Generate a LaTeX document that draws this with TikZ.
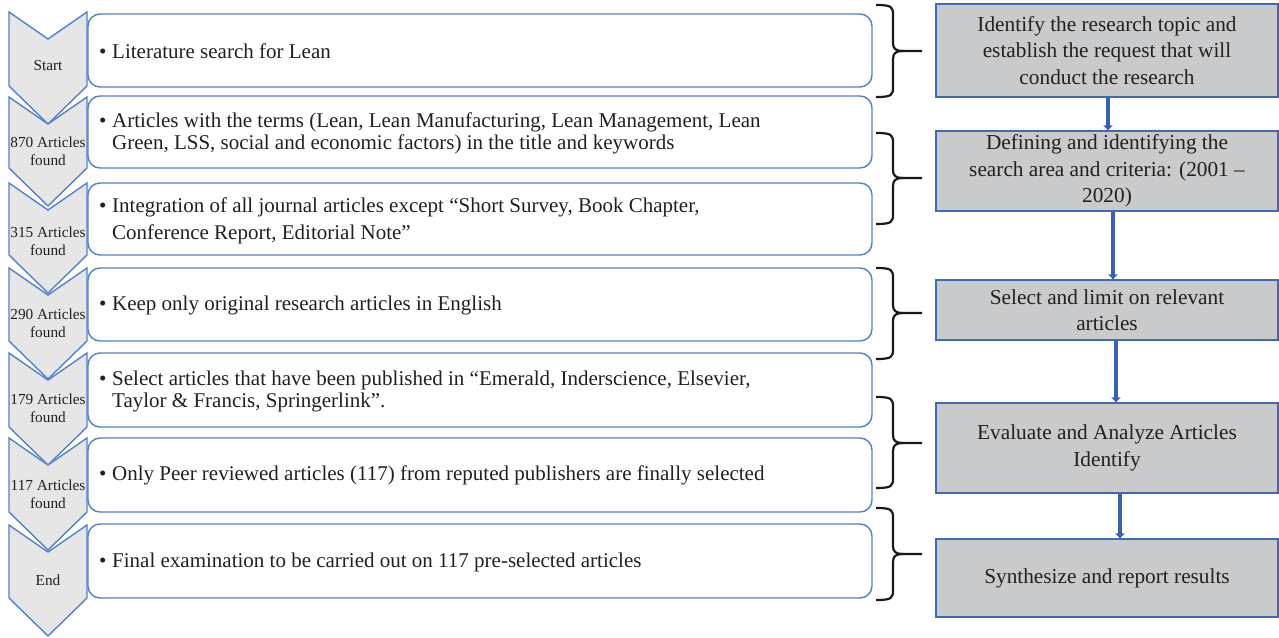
\documentclass[tikz,border=0pt]{standalone}
\usepackage{fontspec}
\setmainfont{Liberation Serif}
\usetikzlibrary{arrows.meta}
\definecolor{bl}{RGB}{84,128,200}
\definecolor{chevfill}{RGB}{231,230,230}
\definecolor{rfill}{RGB}{201,202,204}
\definecolor{rborder}{RGB}{64,106,180}
\definecolor{arrc}{RGB}{58,98,172}
\definecolor{txt}{RGB}{35,31,32}
\newcommand\chevshape[2]{%
  \draw[chevstyle] (9,#1) -- (48,#1+27) -- (87,#1) -- (87,#2) -- (48,#2+38) -- (9,#2) -- cycle;}
\newcommand\bracepath[3]{%
  \draw[bracestyle] (876,#1) .. controls (892,#1) and (893,#1+2) .. (893,#1+10) -- (893,#2-8)
     .. controls (893,#2-2) and (896,#2) .. (903,#2) -- (922,#2);
  \draw[bracestyle] (876,#3) .. controls (892,#3) and (893,#3-2) .. (893,#3-10) -- (893,#2+8)
     .. controls (893,#2+2) and (896,#2) .. (903,#2);}
\newcommand\B{\makebox[13pt][l]{\textbullet}}
\newcommand\I{\hspace*{13pt}}
\begin{document}
\begin{tikzpicture}[x=1pt,y=-1pt,
  chevstyle/.style={fill=chevfill,draw=bl,line width=1.4pt,line join=miter},
  lbox/.style={draw=bl,line width=1.4pt,rounded corners=12pt,minimum width=784pt,inner sep=0pt},
  ltext/.style={anchor=west,align=left,inner sep=0pt,text=txt,font=\fontsize{21}{22}\selectfont},
  clabel/.style={align=center,inner sep=0pt,text=txt,font=\fontsize{15.3}{18}\selectfont},
  rbox/.style={draw=rborder,fill=rfill,line width=1.3pt,minimum width=342pt,inner sep=0pt,align=center,text=txt,font=\fontsize{21.3}{26.5}\selectfont},
  bracestyle/.style={draw=black!90,line width=2.2pt,line cap=butt},
  arr/.style={draw=arrc,line width=4pt,-{Triangle[width=9pt,length=5pt]}}]
\useasboundingbox (0,0) rectangle (1279,637);
% chevrons
\chevshape{12}{86}
\chevshape{97}{168}
\chevshape{183}{255}
\chevshape{268}{341}
\chevshape{353}{427}
\chevshape{438}{512}
\chevshape{525}{598}
\node[clabel] (c1) at (48,66) {Start};
\node[clabel] (c2) at (48,151) {870 Articles\\found};
\node[clabel] (c3) at (48,241) {315 Articles\\found};
\node[clabel] (c4) at (48,323) {290 Articles\\found};
\node[clabel] (c5) at (48,408.5) {179 Articles\\found};
\node[clabel] (c6) at (48,494) {117 Articles\\found};
\node[clabel] (c7) at (48,580) {End};
% left boxes
\node[lbox,minimum height=73pt] (b1) at (480,50.5) {};
\node[lbox,minimum height=72pt] (b2) at (480,132) {};
\node[lbox,minimum height=72pt] (b3) at (480,219) {};
\node[lbox,minimum height=73pt] (b4) at (480,304.5) {};
\node[lbox,minimum height=74pt] (b5) at (480,390) {};
\node[lbox,minimum height=74pt] (b6) at (480,475) {};
\node[lbox,minimum height=74pt] (b7) at (480,561) {};
\node[ltext] (t1) at (99,51) {\B Literature search for Lean};
\node[ltext] (t2) at (99,133) {\B Articles with the terms (Lean, Lean Manufacturing, Lean Management, Lean\\\I Green, LSS, social and economic factors) in the title and keywords};
\node[ltext,font=\fontsize{21}{27}\selectfont] (t3) at (99,221) {\B Integration of all journal articles except “Short Survey, Book Chapter,\\\I Conference Report, Editorial Note”};
\node[ltext] (t4) at (99,305) {\B Keep only original research articles in English};
\node[ltext] (t5) at (99,391) {\B Select articles that have been published in “Emerald, Inderscience, Elsevier,\\\I Taylor \& Francis, Springerlink”.};
\node[ltext] (t6) at (99,475) {\B Only Peer reviewed articles (117) from reputed publishers are finally selected};
\node[ltext] (t7) at (99,562) {\B Final examination to be carried out on 117 pre-selected articles};
% braces
\bracepath{5}{51}{97}
\bracepath{133}{178}{224}
\bracepath{268}{313}{359}
\bracepath{397}{443}{488}
\bracepath{508}{554}{600}
% right boxes
\node[rbox,minimum height=93pt] (r1) at (1107,50.5) {Identify the research topic and\\establish the request that will\\conduct the research};
\node[rbox,minimum height=80pt] (r2) at (1107,171) {Defining and identifying the\\search area and criteria: (2001 –\\2020)};
\node[rbox,minimum height=60pt] (r3) at (1107,310) {Select and limit on relevant\\articles};
\node[rbox,minimum height=90pt] (r4) at (1107,448) {Evaluate and Analyze Articles\\Identify};
\node[rbox,minimum height=78pt] (r5) at (1107,578) {Synthesize and report results};
% arrows
\draw[arr] ([xshift=1pt]r1.south) -- ([xshift=1pt]r2.north);
\draw[arr] ([xshift=6pt]r2.south) -- ([xshift=6pt]r3.north);
\draw[arr] ([xshift=9pt]r3.south) -- ([xshift=9pt]r4.north);
\draw[arr] ([xshift=13pt]r4.south) -- ([xshift=13pt]r5.north);
\end{tikzpicture}
\end{document}
